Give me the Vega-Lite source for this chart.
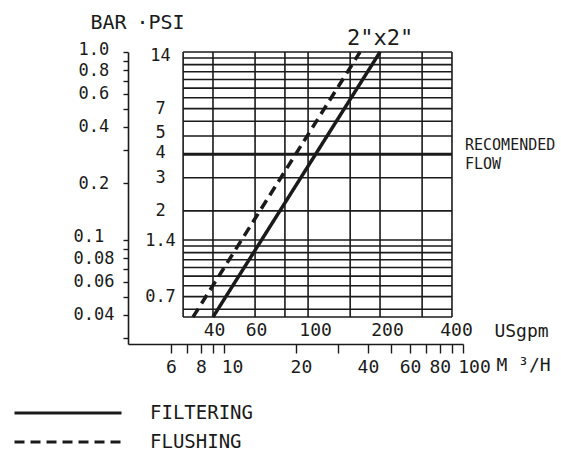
{
  "$schema": "https://vega.github.io/schema/vega-lite/v6.json",
  "width": 335,
  "height": 292,
  "autosize": {"type": "none"},
  "padding": {"left": 128, "top": 52, "right": 98, "bottom": 109},
  "background": "#ffffff",
  "config": {
    "view": {"stroke": null},
    "font": "DejaVu Sans Mono",
    "axis": {
      "grid": false,
      "labelColor": "#1a1a1a",
      "titleColor": "#1a1a1a",
      "labelFont": "DejaVu Sans Mono",
      "titleFont": "DejaVu Sans Mono",
      "labelFontSize": 17,
      "titleFontWeight": "normal",
      "labelOverlap": false,
      "labelFlush": false,
      "labelBound": false,
      "domainColor": "#1a1a1a",
      "tickColor": "#1a1a1a"
    }
  },
  "layer": [
    {
      "encoding": {
        "x": {
          "field": "g",
          "type": "quantitative",
          "scale": {"type": "log", "domain": [17.64, 444.8], "nice": false, "zero": false},
          "axis": {
            "orient": "bottom",
            "offset": -27,
            "values": [40, 60, 100, 200, 400],
            "domain": false,
            "ticks": false,
            "tickSize": 0,
            "labelPadding": 4,
            "labelFontSize": 18,
            "labelExpr": "'' + datum.value",
            "labelOffset": {"condition": [{"test": "datum.value == 100", "value": 7}, {"test": "datum.value == 200", "value": 7}, {"test": "datum.value == 400", "value": 4}], "value": 1},
            "title": "USgpm",
            "titleX": 393,
            "titleY": 14,
            "titleAlign": "center",
            "titleBaseline": "middle",
            "titleFontSize": 18,
            "titleAngle": 0
          }
        },
        "y": {
          "field": "p",
          "type": "quantitative",
          "scale": {"type": "log", "domain": [0.3918, 14], "nice": false, "zero": false},
          "axis": {
            "orient": "left",
            "offset": -55,
            "values": [14, 7, 5, 4, 3, 2, 1.4, 0.7],
            "domain": false,
            "ticks": false,
            "tickSize": 0,
            "labelAlign": "center",
            "labelBaseline": "middle",
            "labelPadding": 23,
            "labelFontSize": 17,
            "labelOffset": {"condition": [{"test": "datum.value == 14", "value": 3}, {"test": "datum.value == 5", "value": -4}, {"test": "datum.value == 4", "value": -2}], "value": 0},
            "labelExpr": "'' + datum.value",
            "title": "·PSI",
            "titleAngle": 0,
            "titleX": -23,
            "titleY": -30,
            "titleAlign": "center",
            "titleBaseline": "middle",
            "titleFontSize": 20
          }
        }
      },
      "layer": [
        {
          "data": {"values": [
            {"g": 30, "p": 0.545, "p2": 14},
            {"g": 40, "p": 0.545, "p2": 14},
            {"g": 60, "p": 0.545, "p2": 14},
            {"g": 80, "p": 0.545, "p2": 14},
            {"g": 100, "p": 0.545, "p2": 14},
            {"g": 150, "p": 0.545, "p2": 14},
            {"g": 200, "p": 0.545, "p2": 14},
            {"g": 300, "p": 0.545, "p2": 14},
            {"g": 400, "p": 0.545, "p2": 14}
          ]},
          "mark": {"type": "rule", "strokeWidth": 1.6, "color": "#1a1a1a"},
          "encoding": {"y2": {"field": "p2"}}
        },
        {
          "data": {"values": [
            {"p": 14, "g": 30, "g2": 400},
            {"p": 13, "g": 30, "g2": 400},
            {"p": 12, "g": 30, "g2": 400},
            {"p": 11, "g": 30, "g2": 400},
            {"p": 10, "g": 30, "g2": 400},
            {"p": 9, "g": 30, "g2": 400},
            {"p": 8, "g": 30, "g2": 400},
            {"p": 7, "g": 30, "g2": 400},
            {"p": 6, "g": 30, "g2": 400},
            {"p": 5, "g": 30, "g2": 400},
            {"p": 3, "g": 30, "g2": 400},
            {"p": 2, "g": 30, "g2": 400},
            {"p": 1.4, "g": 30, "g2": 400},
            {"p": 1.3, "g": 30, "g2": 400},
            {"p": 1.2, "g": 30, "g2": 400},
            {"p": 1.1, "g": 30, "g2": 400},
            {"p": 1.0, "g": 30, "g2": 400},
            {"p": 0.9, "g": 30, "g2": 400},
            {"p": 0.8, "g": 30, "g2": 400},
            {"p": 0.7, "g": 30, "g2": 400},
            {"p": 0.6, "g": 30, "g2": 400},
            {"p": 0.545, "g": 30, "g2": 400}
          ]},
          "mark": {"type": "rule", "strokeWidth": 1.6, "color": "#1a1a1a"},
          "encoding": {"x2": {"field": "g2"}}
        },
        {
          "data": {"values": [{"p": 4, "g": 30, "g2": 400}]},
          "mark": {"type": "rule", "strokeWidth": 3, "color": "#1a1a1a"},
          "encoding": {"x2": {"field": "g2"}}
        },
        {
          "data": {"values": [
            {"series": "FILTERING", "g": 40, "p": 0.545},
            {"series": "FILTERING", "g": 200, "p": 14},
            {"series": "FLUSHING", "g": 33, "p": 0.545},
            {"series": "FLUSHING", "g": 165, "p": 14}
          ]},
          "mark": {"type": "line", "strokeWidth": 3.5, "color": "#1a1a1a", "strokeCap": "butt"},
          "encoding": {
            "strokeDash": {
              "field": "series",
              "type": "nominal",
              "scale": {"domain": ["FILTERING", "FLUSHING"], "range": [[1, 0], [10, 6]]},
              "legend": {
                "orient": "none",
                "legendX": -115,
                "legendY": 346.5,
                "title": null,
                "symbolType": "stroke",
                "symbolSize": 11449,
                "symbolStrokeWidth": 3,
                "symbolStrokeColor": "#1a1a1a",
                "clipHeight": 29,
                "rowPadding": 0,
                "padding": 0,
                "labelOffset": 27,
                "labelFont": "DejaVu Sans Mono",
                "labelFontSize": 19,
                "labelColor": "#1a1a1a",
                "labelLimit": 0
              }
            }
          }
        },
        {
          "data": {"values": [{"label": "2\"x2\"", "g": 200, "p": 14}]},
          "mark": {"type": "text", "font": "DejaVu Sans Mono", "fontSize": 22, "dy": -7, "align": "center", "baseline": "alphabetic", "color": "#1a1a1a"},
          "encoding": {"text": {"field": "label"}}
        },
        {
          "data": {"values": [{"label": "RECOMENDED\nFLOW", "g": 400, "p": 4}]},
          "mark": {"type": "text", "font": "DejaVu Sans Mono", "fontSize": 15, "lineBreak": "\n", "lineHeight": 19, "dx": 13, "dy": -4, "align": "left", "baseline": "alphabetic", "color": "#1a1a1a"},
          "encoding": {"text": {"field": "label"}}
        }
      ]
    },
    {
      "data": {"values": [{"m": 10, "b": 0.1}]},
      "mark": {"type": "point", "opacity": 0},
      "encoding": {
        "x": {
          "field": "m",
          "type": "quantitative",
          "scale": {"type": "log", "domain": [3.965, 100], "nice": false, "zero": false},
          "axis": {
            "orient": "bottom",
            "offset": 0,
            "values": [6, 7, 8, 9, 10, 20, 30, 40, 50, 60, 70, 80, 90, 100],
            "domain": true,
            "domainWidth": 1.6,
            "ticks": true,
            "tickSize": 9,
            "tickWidth": 1.4,
            "labelPadding": 5,
            "labelFontSize": 18,
            "labelExpr": "((datum.value <= 10 && datum.value % 2 == 0) || datum.value % 20 == 0) ? '' + datum.value : ''",
            "labelOffset": {"condition": [{"test": "datum.value == 100", "value": 11}, {"test": "datum.value == 10", "value": 8}, {"test": "datum.value == 20", "value": 5}], "value": 0},
            "title": "M ³/H",
            "titleX": 395,
            "titleY": 21,
            "titleAlign": "center",
            "titleBaseline": "middle",
            "titleFontSize": 18,
            "titleAngle": 0
          }
        },
        "y": {
          "field": "b",
          "type": "quantitative",
          "scale": {"type": "log", "domain": [0.02797, 1], "nice": false, "zero": false},
          "axis": {
            "orient": "left",
            "offset": 0,
            "values": [0.03, 0.04, 0.05, 0.06, 0.07, 0.08, 0.09, 0.1, 0.2, 0.3, 0.4, 0.5, 0.6, 0.7, 0.8, 0.9, 1],
            "domain": true,
            "domainWidth": 1.6,
            "ticks": true,
            "tickSize": 5,
            "tickWidth": 1.4,
            "labelAlign": "left",
            "labelBaseline": "middle",
            "labelFontSize": 17,
            "labelPadding": {"condition": {"test": "datum.value <= 0.1", "value": 50}, "value": 45},
            "labelOffset": {"condition": [{"test": "datum.value == 1", "value": -3}, {"test": "datum.value == 0.1", "value": -3}], "value": 0},
            "labelExpr": "datum.value == 1 ? '1.0' : ((datum.value == 0.8 || datum.value == 0.6 || datum.value == 0.4 || datum.value == 0.2 || datum.value == 0.1 || datum.value == 0.08 || datum.value == 0.06 || datum.value == 0.04) ? '' + datum.value : '')",
            "title": "BAR",
            "titleAngle": 0,
            "titleX": -20,
            "titleY": -30,
            "titleAlign": "center",
            "titleBaseline": "middle",
            "titleFontSize": 20
          }
        }
      }
    }
  ],
  "resolve": {"scale": {"x": "independent", "y": "independent"}}
}
